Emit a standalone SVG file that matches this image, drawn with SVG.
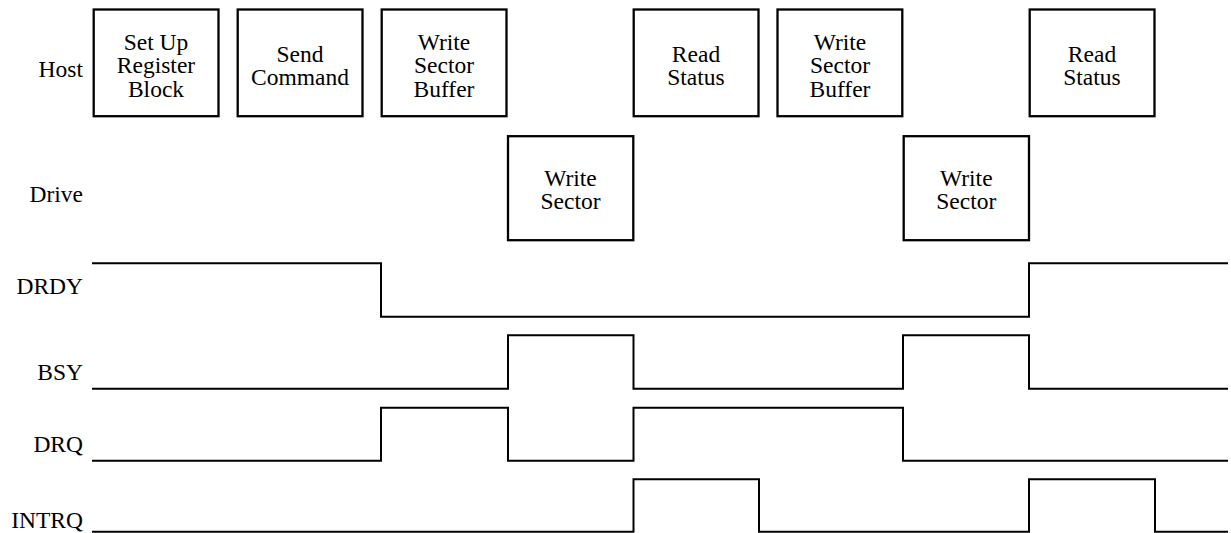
<svg xmlns="http://www.w3.org/2000/svg" width="1231" height="533" viewBox="0 0 1231 533">
<style>
text{font-family:'Liberation Serif','Times New Roman',serif;font-size:23.5px;fill:#000}
.c{text-anchor:middle}
.l{text-anchor:end}
.box{fill:#fff;stroke:#000;stroke-width:2.3}
.w{fill:none;stroke:#000;stroke-width:2}
</style>
<rect width="1231" height="533" fill="#fff"/>
<g id="labels">
<text class="l" x="83" y="76.5">Host</text>
<text class="l" x="83" y="202">Drive</text>
<text class="l" x="83" y="294.3">DRDY</text>
<text class="l" x="83" y="380">BSY</text>
<text class="l" x="83" y="452.3">DRQ</text>
<text class="l" x="83" y="527.7">INTRQ</text>
</g>
<g id="host1"><rect class="box" x="93.7" y="9.5" width="124.8" height="106.7"/>
<text class="c" x="156" y="50">Set Up</text><text class="c" x="156" y="73.3">Register</text><text class="c" x="156" y="96.7">Block</text></g>
<g id="host2"><rect class="box" x="237.7" y="9.5" width="124.8" height="106.7"/>
<text class="c" x="300" y="61.7">Send</text><text class="c" x="300" y="85">Command</text></g>
<g id="host3"><rect class="box" x="381.7" y="9.5" width="124.8" height="106.7"/>
<text class="c" x="444" y="50">Write</text><text class="c" x="444" y="73.3">Sector</text><text class="c" x="444" y="96.7">Buffer</text></g>
<g id="host4"><rect class="box" x="633.7" y="9.5" width="124.8" height="106.7"/>
<text class="c" x="696" y="61.7">Read</text><text class="c" x="696" y="85">Status</text></g>
<g id="host5"><rect class="box" x="777.5" y="9.5" width="124.8" height="106.7"/>
<text class="c" x="840" y="50">Write</text><text class="c" x="840" y="73.3">Sector</text><text class="c" x="840" y="96.7">Buffer</text></g>
<g id="host6"><rect class="box" x="1029.7" y="9.5" width="124.8" height="106.7"/>
<text class="c" x="1092" y="61.7">Read</text><text class="c" x="1092" y="85">Status</text></g>
<g id="drive1"><rect class="box" x="508" y="136.2" width="125.3" height="104"/>
<text class="c" x="570.5" y="185.7">Write</text><text class="c" x="570.5" y="208.7">Sector</text></g>
<g id="drive2"><rect class="box" x="903.7" y="136.2" width="125.3" height="104"/>
<text class="c" x="966.3" y="185.7">Write</text><text class="c" x="966.3" y="208.7">Sector</text></g>
<g id="connectors">
<polyline class="w" points="92,263.3 381,263.3 381,316.7 1029,316.7 1029,263.3 1228,263.3"/>
<polyline class="w" points="92,388.7 508,388.7 508,335.3 633.5,335.3 633.5,388.7 903,388.7 903,335.3 1029,335.3 1029,388.7 1228,388.7"/>
<polyline class="w" points="92,460.7 381,460.7 381,407.7 508,407.7 508,460.7 633.5,460.7 633.5,407.7 903,407.7 903,460.7 1228,460.7"/>
<polyline class="w" points="92,531.7 633.5,531.7 633.5,479.3 759,479.3 759,531.7 1029,531.7 1029,479.3 1155,479.3 1155,531.7 1228,531.7"/>
</g>
</svg>
